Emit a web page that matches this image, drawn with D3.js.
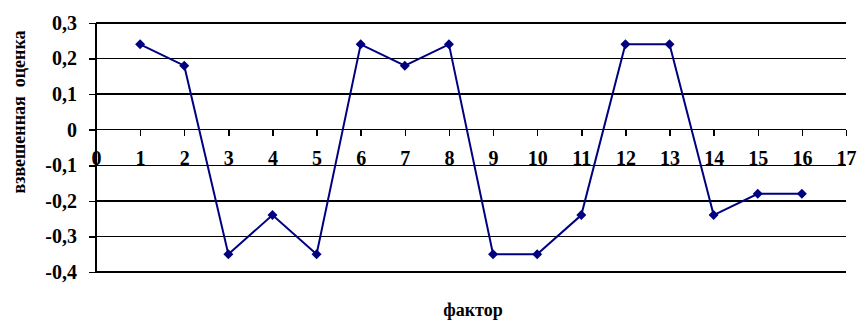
<!doctype html>
<html>
<head>
<meta charset="utf-8">
<script src="https://cdn.jsdelivr.net/npm/d3@7"></script>
<style>
  body { margin: 0; background: #fff; }
  svg { display: block; }
  .grid line { stroke: #000; stroke-width: 1.5; shape-rendering: crispEdges; }
  .axis path, .axis line { stroke: #000; stroke-width: 1.5; shape-rendering: crispEdges; }
</style>
</head>
<body>
<svg width="862" height="320"></svg>
<script>
// factor numbers and weighted scores
var factors = [1, 2, 3, 4, 5, 6, 7, 8, 9, 10, 11, 12, 13, 14, 15, 16];
var scores = [0.24, 0.18, -0.35, -0.24, -0.35, 0.24, 0.18, 0.24, -0.35, -0.35, -0.24, 0.24, 0.24, -0.24, -0.18, -0.18];
var yTicks = [0.3, 0.2, 0.1, 0, -0.1, -0.2, -0.3, -0.4];
var xTicks = d3.range(0, 18);

var serif = "'Liberation Serif', 'Times New Roman', serif";
var svg = d3.select("svg");

var x = d3.scaleLinear().domain([0, 17]).range([96, 846]);
var y = d3.scaleLinear().domain([-0.4, 0.3]).range([272, 23]);

var fmt = function(d) { return d3.format(".1f")(d).replace(".", ",").replace("−", "-"); };

// horizontal gridlines
svg.append("g").attr("class", "grid")
  .selectAll("line")
  .data(yTicks)
  .enter()
  .append("line")
  .attr("x1", 96).attr("x2", 846)
  .attr("y1", function(d) { return y(d); })
  .attr("y2", function(d) { return y(d); });

// y axis
var yAxis = d3.axisLeft(y).tickValues(yTicks).tickSize(7).tickPadding(12)
  .tickFormat(function(d) { return d === 0 ? "0" : fmt(d); });
svg.append("g").attr("class", "axis")
  .attr("transform", "translate(96,0)")
  .call(yAxis)
  .attr("font-family", serif)
  .attr("font-size", 20)
  .attr("font-weight", "bold")
  .call(function(g) { g.select(".domain").attr("d", "M0," + y(0.3) + "V" + y(-0.4)); });

// x axis sitting on zero
var xAxis = d3.axisBottom(x).tickValues(xTicks).tickSize(6).tickPadding(15)
  .tickFormat(d3.format("d"));
svg.append("g").attr("class", "axis")
  .attr("transform", "translate(0," + y(0) + ")")
  .call(xAxis)
  .attr("font-family", serif)
  .attr("font-size", 20)
  .attr("font-weight", "bold")
  .call(function(g) { g.select(".domain").remove(); });

// series
var line = d3.line()
  .x(function(d, i) { return x(factors[i]); })
  .y(function(d) { return y(d); });

svg.append("path")
  .datum(scores)
  .attr("d", line)
  .attr("fill", "none")
  .attr("stroke", "#000080")
  .attr("stroke-width", 2);

svg.append("g")
  .selectAll("path")
  .data(scores)
  .enter()
  .append("path")
  .attr("transform", function(d, i) { return "translate(" + x(factors[i]) + "," + y(d) + ")"; })
  .attr("d", "M0,-5L5,0L0,5L-5,0Z")
  .attr("fill", "#000080");

// titles
svg.append("text")
  .attr("transform", "translate(25,112) rotate(-90)")
  .attr("text-anchor", "middle")
  .attr("font-family", serif)
  .attr("font-weight", "bold")
  .attr("font-size", 18)
  .style("white-space", "pre")
  .text("взвешенная  оценка");

svg.append("text")
  .attr("x", 473)
  .attr("y", 316)
  .attr("text-anchor", "middle")
  .attr("font-family", serif)
  .attr("font-weight", "bold")
  .attr("font-size", 18)
  .text("фактор");
</script>
</body>
</html>
